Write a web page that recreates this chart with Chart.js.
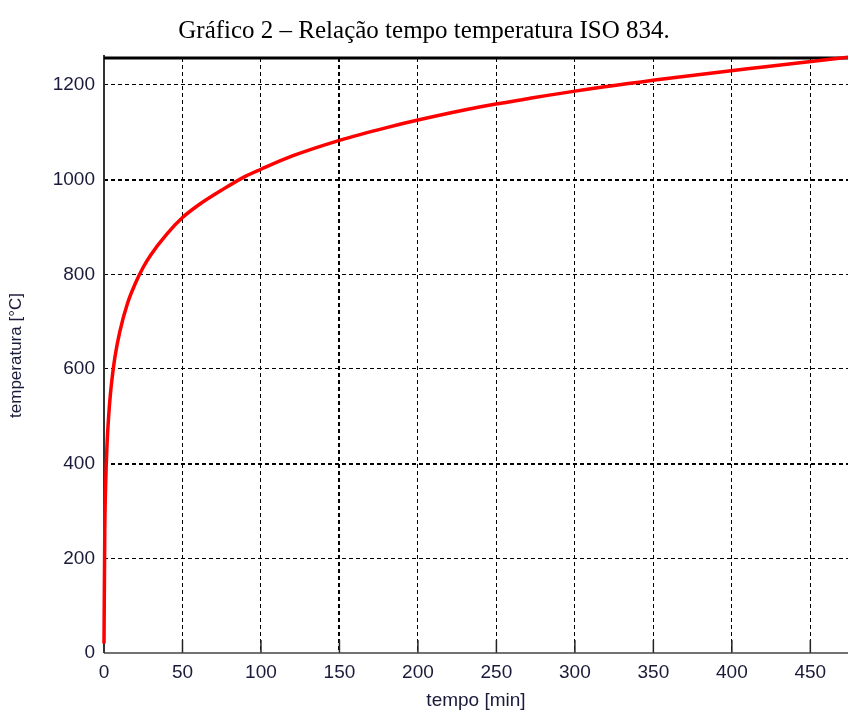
<!DOCTYPE html>
<html>
<head>
<meta charset="utf-8">
<script src="https://cdn.jsdelivr.net/npm/chart.js@4/dist/chart.umd.min.js"></script>
<style>
  html, body { margin: 0; padding: 0; background: #fff; }
  #wrap { width: 848px; height: 716px; }
</style>
</head>
<body>
<div id="wrap"><canvas id="chart" width="848" height="716"></canvas></div>
<script>
// ISO 834 curve
const timeMin = [0, 0.5, 1, 2, 3, 4, 5, 7, 10, 15, 20, 25, 30, 40, 50, 60, 75, 90, 100, 120, 150, 180, 200, 240, 270, 300, 360, 420, 480];
const tempC   = [20, 260, 350, 445, 502, 544, 576, 626, 678, 739, 781, 815, 842, 885, 920, 946, 978, 1007, 1022, 1050, 1083, 1110, 1126, 1154, 1171, 1187, 1214, 1238, 1261];

const xTicks = [0, 50, 100, 150, 200, 250, 300, 350, 400, 450];
const yTicks = [0, 200, 400, 600, 800, 1000, 1200];

// grid lines that come out heavier in the original
const boldX = [150];
const boldY = [400, 1000];

const tickFont = { family: 'Liberation Sans, Arial, sans-serif', size: 19 };
const tickColor = '#1a1a3a';

// axis lines, top frame and inward tick marks
const framePlugin = {
    id: 'frame',
    beforeDatasetsDraw(chart) {
        const { ctx, chartArea: a, scales } = chart;
        ctx.save();
        ctx.setLineDash([]);
        // inward ticks on the x axis
        ctx.strokeStyle = '#222';
        ctx.lineWidth = 1.5;
        xTicks.forEach(v => {
            const x = scales.x.getPixelForValue(v);
            ctx.beginPath();
            ctx.moveTo(x, a.bottom);
            ctx.lineTo(x, a.bottom - 13);
            ctx.stroke();
        });
        // bottom axis
        ctx.strokeStyle = '#444';
        ctx.lineWidth = 1.5;
        ctx.beginPath();
        ctx.moveTo(a.left, a.bottom);
        ctx.lineTo(a.right, a.bottom);
        ctx.stroke();
        // left axis
        ctx.strokeStyle = '#333';
        ctx.lineWidth = 2;
        ctx.beginPath();
        ctx.moveTo(a.left, a.bottom);
        ctx.lineTo(a.left, a.top - 3);
        ctx.stroke();
        // heavy top line
        ctx.strokeStyle = '#000';
        ctx.lineWidth = 3;
        ctx.beginPath();
        ctx.moveTo(a.left, a.top);
        ctx.lineTo(a.right, a.top);
        ctx.stroke();
        ctx.restore();
    }
};

new Chart(document.getElementById('chart'), {
    type: 'line',
    data: {
        datasets: [{
            data: timeMin.map((t, i) => ({ x: t, y: tempC[i] })),
            borderColor: '#ff0000',
            borderWidth: 3.5,
            pointRadius: 0,
            cubicInterpolationMode: 'monotone',
            clip: false
        }]
    },
    options: {
        responsive: false,
        animation: false,
        layout: { padding: 0 },
        plugins: {
            legend: { display: false },
            tooltip: { enabled: false },
            title: {
                display: true,
                text: 'Gráfico 2 – Relação tempo temperatura ISO 834.',
                color: '#000',
                font: { family: 'Liberation Serif, Times New Roman, serif', size: 25, weight: 'normal' },
                padding: { top: 16, bottom: 12 }
            }
        },
        scales: {
            x: {
                type: 'linear',
                min: 0,
                max: 474,
                afterBuildTicks: s => { s.ticks = xTicks.map(v => ({ value: v })); },
                afterFit: s => { s.height = 63; },
                ticks: { font: tickFont, color: tickColor, padding: 8, maxRotation: 0, callback: v => String(v) },
                grid: {
                    drawTicks: false,
                    color: c => c.tick && c.tick.value === 0 ? 'rgba(0,0,0,0)' : '#000',
                    lineWidth: c => c.tick && boldX.includes(c.tick.value) ? 2 : 1
                },
                border: { display: false, dash: [4, 3] },
                title: {
                    display: true,
                    text: 'tempo [min]',
                    color: tickColor,
                    font: tickFont,
                    padding: { top: 0, bottom: 4 }
                }
            },
            y: {
                min: 0,
                max: 1257,
                afterBuildTicks: s => { s.ticks = yTicks.map(v => ({ value: v })); },
                afterFit: s => { s.width = 104; },
                ticks: { font: tickFont, color: tickColor, padding: 9, callback: v => String(v) },
                grid: {
                    drawTicks: false,
                    color: c => c.tick && c.tick.value === 0 ? 'rgba(0,0,0,0)' : '#000',
                    lineWidth: c => c.tick && boldY.includes(c.tick.value) ? 2 : 1
                },
                border: { display: false, dash: [4, 3] },
                title: {
                    display: true,
                    text: 'temperatura [°C]',
                    color: tickColor,
                    font: { family: 'Liberation Sans, Arial, sans-serif', size: 17 },
                    padding: { top: 6, bottom: 0 }
                }
            }
        }
    },
    plugins: [framePlugin]
});
</script>
</body>
</html>
